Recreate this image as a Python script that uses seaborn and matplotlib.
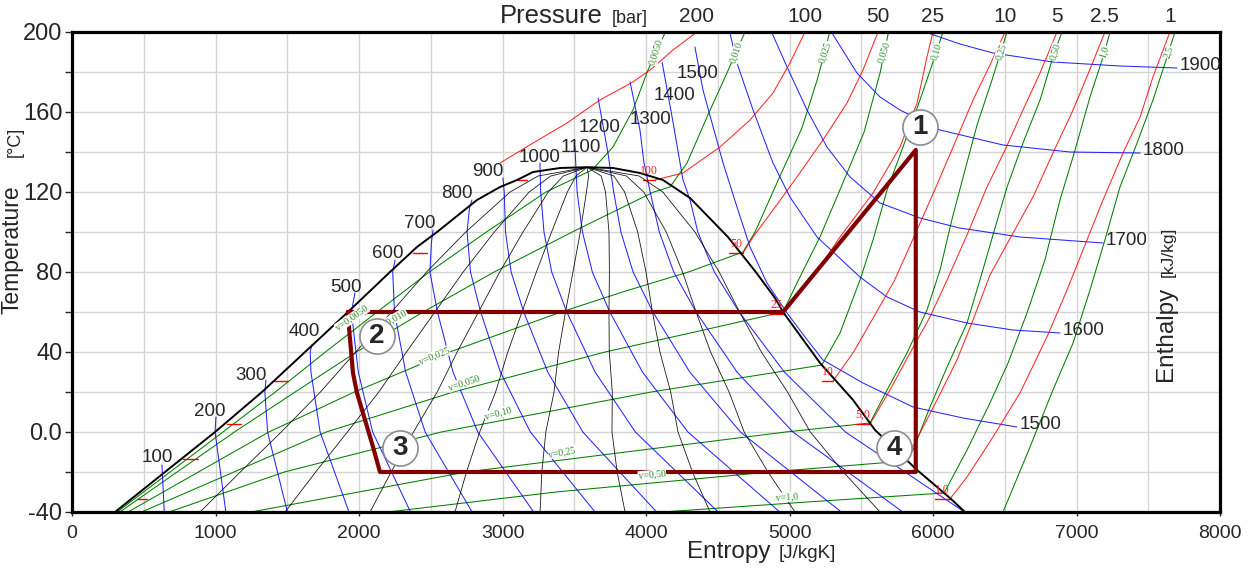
import numpy as np
import pandas as pd
import matplotlib
matplotlib.use("Agg")
import matplotlib.pyplot as plt
import seaborn as sns

# ---------------- data (s in J/kgK, T in degC) ----------------
# saturation dome
liq_T = [-40, -20, 0, 20, 40, 60, 80, 92.5, 100, 116, 122.5, 126, 130, 132, 132.4]
liq_s = [300, 648, 997, 1324, 1624, 1923, 2216, 2404, 2544, 2822, 2983, 3101, 3213, 3401, 3589]
vap_T = [132.4, 132, 129.5, 126, 117, 97.5, 80, 67, 60, 34.5, 16, 1, -19, -33, -40]
vap_s = [3589, 3770, 3958, 4118, 4307, 4571, 4765, 4899, 4955, 5213, 5443, 5596, 5889, 6118, 6223]

# lines of constant quality x = 0.1 ... 0.9
q_T = [-40, -20, 0, 20, 40, 60, 80, 100, 120, 128, 132.4]
q_s = [
    [892, 1173, 1458, 1731, 1977, 2226, 2471, 2744, 3053, 3248, 3589],
    [1485, 1698, 1919, 2138, 2331, 2529, 2726, 2943, 3186, 3336, 3589],
    [2077, 2224, 2380, 2545, 2684, 2833, 2981, 3143, 3319, 3424, 3589],
    [2669, 2749, 2841, 2952, 3037, 3136, 3236, 3342, 3452, 3512, 3589],
    [3262, 3274, 3302, 3359, 3391, 3439, 3491, 3542, 3585, 3600, 3589],
    [3854, 3799, 3763, 3765, 3744, 3742, 3745, 3742, 3718, 3688, 3589],
    [4446, 4324, 4223, 4172, 4097, 4045, 4000, 3942, 3851, 3776, 3589],
    [5038, 4850, 4684, 4579, 4450, 4349, 4255, 4141, 3984, 3864, 3589],
    [5631, 5375, 5145, 4986, 4804, 4652, 4510, 4341, 4117, 3952, 3589],
]

# isenthalps [kJ/kg]
h_names = ["100", "200", "300", "400", "500", "600", "700", "800", "900", "1000",
           "1100", "1200", "1300", "1400", "1500", "1600", "1700", "1800", "1900"]
h_s = [
    [643, 627],
    [1072, 997, 1003],
    [1501, 1363, 1344, 1352],
    [1930, 1729, 1665, 1660, 1672],
    [2359, 2095, 1995, 1947, 1972],
    [2788, 2461, 2325, 2247, 2235, 2251],
    [3217, 2828, 2655, 2547, 2494, 2505, 2516],
    [3645, 3194, 2985, 2848, 2777, 2753, 2770, 2787],
    [4074, 3560, 3315, 3148, 3060, 3021, 3012, 3003],
    [4503, 3926, 3645, 3448, 3343, 3289, 3266, 3261],
    [4932, 4292, 3975, 3748, 3626, 3557, 3520, 3505],
    [5361, 4658, 4305, 4048, 3910, 3825, 3775, 3749, 3735, 3666],
    [5790, 5024, 4634, 4349, 4193, 4093, 4029, 3985, 3958, 3889],
    [6219, 5390, 4964, 4649, 4476, 4361, 4307, 4258, 4188, 4112],
    [6585, 6209, 5861, 5512, 5233, 5108, 4983, 4843, 4725, 4634, 4537, 4397, 4341],
    [6885, 6557, 6237, 5909, 5680, 5491, 5192, 5003, 4885, 4746, 4634, 4585],
    [7185, 6606, 6186, 5909, 5631, 5422, 5261, 5122, 4983, 4878],
    [7443, 6955, 6488, 6049, 5770, 5631, 5470, 5296],
    [7700, 7303, 6836, 6418, 6188, 5965],
]
h_T = [
    [-40, -16.5],
    [-40, 0, 7.5],
    [-40, 0, 20, 26],
    [-40, 0, 30, 40, 43.5],
    [-40, 0, 30, 60, 69.5],
    [-40, 0, 30, 60, 80, 86],
    [-40, 0, 30, 60, 80, 95, 101],
    [-40, 0, 30, 60, 80, 100, 112, 116],
    [-40, 0, 30, 60, 80, 100, 120, 127],
    [-40, 0, 30, 60, 80, 100, 120, 134.5],
    [-40, 0, 30, 60, 80, 100, 120, 142.5],
    [-40, 0, 30, 60, 80, 100, 120, 132.5, 139.5, 167],
    [-40, 0, 30, 60, 80, 100, 120, 135, 151, 175],
    [-40, 0, 30, 60, 80, 100, 116, 126, 155, 185],
    [2.5, 7, 12.5, 24.5, 36, 47.5, 59.5, 74.5, 92.5, 112.5, 134.5, 171, 192.5],
    [49.5, 51, 54.5, 60, 67.5, 77.5, 97.5, 117.5, 134.5, 161, 184.5, 199.5],
    [94.5, 97.5, 102, 107, 114.5, 127.5, 142.5, 161, 182.5, 199.5],
    [139.5, 140, 143.5, 151, 161, 167.5, 179.5, 199.5],
    [182, 183, 185, 189.5, 194, 199.5],
]
# where the left-hand enthalpy numbers sit
hlab_s = [592, 962, 1247, 1617, 1909, 2202, 2425, 2683, 2899, 3261, 3547, 3679, 4028, 4202, 4362]
hlab_T = [-13, 10, 28.5, 50, 72, 89.5, 104.5, 119.5, 130, 137.5, 142.5, 152.5, 156, 168.5, 179.5]

# isobars [bar]: superheated branches
p_names = ["200", "100", "50", "25", "10", "5", "2.5", "1"]
p_s = [
    [2983, 3213, 3449, 3679, 3909, 4028, 4188, 4355],
    [4063, 4258, 4516, 4725, 4885, 5003, 5108],
    [4676, 4746, 4885, 5052, 5233, 5401, 5512, 5617],
    [4955, 5164, 5352, 5582, 5770, 5889, 5958, 6000],
    [5303, 5442, 5587, 5733, 5873, 6012, 6152, 6279, 6397, 6502],
    [5561, 5700, 5840, 5979, 6098, 6237, 6376, 6502, 6627, 6746, 6864],
    [5812, 5895, 6028, 6167, 6279, 6397, 6550, 6697, 6836, 6976, 7092, 7198],
    [6118, 6237, 6418, 6606, 6794, 6934, 7073, 7185, 7324, 7443, 7533, 7651],
]
p_T = [
    [134.5, 144.5, 154.5, 166, 175, 181, 191, 200],
    [126, 129.5, 142.5, 156, 169.5, 184.5, 200],
    [89.5, 97.5, 111, 127.5, 146, 164.5, 181, 200],
    [59, 77.5, 97.5, 119.5, 142.5, 164.5, 187.5, 200],
    [25.5, 39.5, 57.5, 76, 98.5, 121, 144.5, 166, 183.5, 200],
    [4, 21, 39.5, 57.5, 76, 98.5, 122.5, 141, 161, 179.5, 200],
    [-13.5, -2.5, 16, 36, 56, 78.5, 98.5, 117.5, 139.5, 161, 181, 200],
    [-33.5, -22.5, -2.5, 19.5, 47.5, 71, 96, 116, 139.5, 157.5, 177.5, 200],
]
# short isobar stubs at the saturation lines
stub_names = ["100", "50", "25", "10", "5,0", "2,5", "1,0"]
stub_T = [126, 89.5, 59, 25.5, 4, -13.5, -33.5]
stub_liq_s = [(3108, 3171), (2376, 2474), (1951, 2042), (1408, 1505), (1080, 1178), (774, 878), (453, 523)]
stub_vap_s = [(3979, 4063), (4580, 4676), (4864, 4955), (5226, 5303), (5456, 5561), (5735, 5812), (6014, 6118)]

# isochores [m3/kg]
v_names = ["0,0050", "0,010", "0,025", "0,050", "0,10", "0,25", "0,50", "1,0", "2,5"]
v_s = [
    [314, 1052, 1417, 1766, 2126, 2490, 2888, 3303, 3624, 3770, 3909, 4014, 4132],
    [333, 1132, 1555, 1982, 2447, 2942, 3486, 4054, 4167, 4286, 4425, 4564, 4690],
    [390, 1372, 1968, 2632, 3409, 3836, 4296, 4676, 4760, 4934, 5087, 5199, 5280],
    [485, 1772, 2657, 3715, 4341, 4955, 5052, 5212, 5360, 5520, 5631, 5690],
    [676, 1480, 2573, 4036, 4920, 5226, 5352, 5491, 5582, 5680, 5791, 5909, 5993, 6070],
    [1249, 2748, 4974, 5561, 5680, 5819, 5958, 6049, 6131, 6223, 6307, 6411, 6516],
    [2203, 3374, 4861, 5805, 5861, 5979, 6098, 6237, 6327, 6418, 6516, 6627, 6746, 6836, 6899],
    [4112, 5124, 6077, 6237, 6397, 6523, 6655, 6780, 6885, 6990, 7094, 7185, 7234],
    [6488, 6676, 6836, 6976, 7094, 7198, 7303, 7422, 7533, 7631, 7686],
]
v_T = [
    [-40, 0, 20, 40, 60, 80, 100, 120, 131, 142.5, 161, 181, 199.5],
    [-40, 0, 20, 40, 60, 80, 100, 120, 122.5, 134.5, 157.5, 179.5, 200],
    [-40, 0, 20, 40, 60, 70, 80, 90, 100, 128, 152, 177.5, 200],
    [-40, 0, 20, 40, 50, 60, 74.5, 97.5, 122.5, 150, 179.5, 200],
    [-40, -20, 0, 20, 30, 33.5, 49.5, 76, 96, 121, 142.5, 166, 183.5, 200],
    [-40, -20, 0, 4.5, 21, 39.5, 61, 81, 106, 131, 153.5, 176, 200],
    [-40, -30, -20, -14.5, -9, 12.5, 32.5, 54.5, 76, 98.5, 122.5, 144.5, 166, 187.5, 200],
    [-40, -35, -30.5, -9, 14.5, 34.5, 59.5, 86, 116, 141, 167.5, 187.5, 200],
    [-40, -7.5, 21, 44.5, 71, 96, 122.5, 144.5, 166, 187.5, 200],
]
vin_text = ["v=0,0050", "v=0,010", "v=0,025", "v=0,050", "v=0,10", "v=0,25", "v=0,50", "v=1,0"]
vin_s = [1951, 2230, 2523, 2732, 2969, 3415, 4042, 4983]
vin_T = [57, 56, 38, 24.5, 9.5, -10, -21.5, -32.5]
vin_rot = [35, 30, 22, 18, 15, 10, 5, 4]

# refrigeration cycle
proc_s = [1923, 4955, 5880, 5880, 2146, 2098, 2042, 1986, 1958, 1944, 1930, 1923]
proc_T = [60, 60, 141, -20, -20, -7.5, 6, 19.5, 29.5, 41, 52.5, 60]
pt_names = ["1", "2", "3", "4"]
pt_s = [5909, 2125, 2286, 5728]
pt_T = [152.5, 48, -8, -8]


def long_table(names, s_lists, t_lists):
    parts = [pd.DataFrame({"line": n, "s": s, "T": t}) for n, s, t in zip(names, s_lists, t_lists)]
    return pd.concat(parts, ignore_index=True)


sns.set_style("white")
plt.rcParams["font.family"] = ["Liberation Sans", "DejaVu Sans"]

W, H = 1258, 573
fig = plt.figure(figsize=(W / 100, H / 100), dpi=100)
ax = fig.add_axes([72 / W, 1 - 512 / H, (1220 - 72) / W, (512 - 32) / H])


def draw(df, color, lw, z, alpha=1.0):
    sns.lineplot(data=df, x="s", y="T", units="line", estimator=None, sort=False,
                 color=color, linewidth=lw, alpha=alpha, ax=ax, legend=False, zorder=z)


# isochores
draw(long_table(v_names, v_s, v_T), "#008000", 0.75, 2)
# isenthalps
draw(long_table(h_names, h_s, h_T), "#0000ff", 0.75, 2, 0.85)
# isobars
draw(long_table(p_names, p_s, p_T), "#ff0000", 0.75, 2, 0.85)
stubs = long_table([n + "l" for n in stub_names] + [n + "v" for n in stub_names],
                   [list(a) for a in stub_liq_s] + [list(a) for a in stub_vap_s],
                   [[t, t] for t in stub_T] * 2)
draw(stubs, "#ff0000", 1.0, 2)
# quality lines
draw(long_table([f"x{i}" for i in range(len(q_s))], q_s, [q_T] * len(q_s)), "black", 0.6, 2, 0.9)
# saturation dome
draw(long_table(["dome"], [liq_s + vap_s], [liq_T + vap_T]), "black", 1.4, 3)
# cycle
draw(long_table(["cycle"], [proc_s], [proc_T]), "#800000", 3.0, 4)

# state point markers
ax.scatter(pt_s, pt_T, s=640, facecolor="white", edgecolor="#8c8c8c", linewidth=1.2, zorder=6)
for n, s, t in zip(pt_names, pt_s, pt_T):
    ax.text(s, t, n, ha="center", va="center", fontsize=20, fontweight="bold", zorder=7)

# enthalpy numbers
for n, s, t in zip(h_names, hlab_s, hlab_T):
    ax.text(s, t, n, ha="center", va="center", fontsize=13.5, zorder=5)
for n, s, t in zip(h_names[14:], h_s[14:], h_T[14:]):
    ax.annotate(n, (s[0], t[0]), xytext=(2, 2), textcoords="offset points",
                ha="left", va="center", fontsize=13.5, zorder=5)

# red pressure labels at the vapour line
for n, (a, b), t in zip(stub_names, stub_vap_s, stub_T):
    if n == "2,5":
        continue
    ax.annotate(n, ((a + b) / 2, t), xytext=(0, 2), textcoords="offset points",
                ha="center", va="bottom", fontsize=8.5, color="#ff2020",
                family=["Liberation Serif"], zorder=5)

# pressure numbers above the frame
for n, s in zip(p_names, p_s):
    ax.annotate(n, (s[-1], 200), xytext=(0, 7), textcoords="offset points",
                ha="center", va="baseline", fontsize=15, annotation_clip=False)

# isochore labels
for n, s, t in zip(v_names, v_s, v_T):
    ax.text(np.interp(190, t, s), 190, n, rotation=72, ha="center", va="center",
            fontsize=7, color="#2e8b2e", family=["Liberation Serif"], zorder=5,
            bbox=dict(boxstyle="square,pad=0.05", fc="white", ec="none"))
for n, s, t, r in zip(vin_text, vin_s, vin_T, vin_rot):
    ax.text(s, t, n, rotation=r, ha="center", va="center", fontsize=7,
            color="#2e8b2e", family=["Liberation Serif"], zorder=5,
            bbox=dict(boxstyle="square,pad=0.05", fc="white", ec="none"))

# axes, grid, ticks
ax.set_xlim(0, 8000)
ax.set_ylim(-40, 200)
ax.set_xticks(range(0, 8001, 1000))
ax.set_xticks(range(500, 8000, 1000), minor=True)
ax.set_yticks(range(-40, 201, 40))
ax.set_yticks(range(-20, 200, 40), minor=True)
ax.set_yticklabels(["-40", "0.0", "40", "80", "120", "160", "200"])
ax.grid(which="both", color="#d4d4d4", linewidth=1.0)
ax.set_axisbelow(True)
ax.tick_params(axis="y", which="both", direction="out", length=5, width=1, labelsize=17, pad=2, left=True)
ax.tick_params(axis="x", which="major", direction="out", length=3, width=1, labelsize=14, pad=6, bottom=True)
ax.tick_params(axis="x", which="minor", length=0)
for sp in ax.spines.values():
    sp.set_linewidth(2.3)
    sp.set_color("black")
ax.set_xlabel("")
ax.set_ylabel("")

# axis titles
fig.text(12 / W, 1 - 250 / H, "Temperature", rotation=90, ha="center", va="center", fontsize=16.5)
fig.text(15 / W, 1 - 142 / H, "[°C]", rotation=90, ha="center", va="center", fontsize=13)
fig.text(687 / W, 1 - 558 / H, "Entropy", ha="left", va="baseline", fontsize=17.5)
fig.text(779 / W, 1 - 558 / H, "[J/kgK]", ha="left", va="baseline", fontsize=13.5)
fig.text(500 / W, 1 - 23 / H, "Pressure", ha="left", va="baseline", fontsize=18.5)
fig.text(612 / W, 1 - 23 / H, "[bar]", ha="left", va="baseline", fontsize=13)
fig.text(1166 / W, 1 - 334 / H, "Enthalpy", rotation=90, ha="center", va="center", fontsize=17.5)
fig.text(1168 / W, 1 - 252 / H, "[kJ/kg]", rotation=90, ha="center", va="center", fontsize=12.5)

fig.savefig("out.png", dpi=100, facecolor="white")
